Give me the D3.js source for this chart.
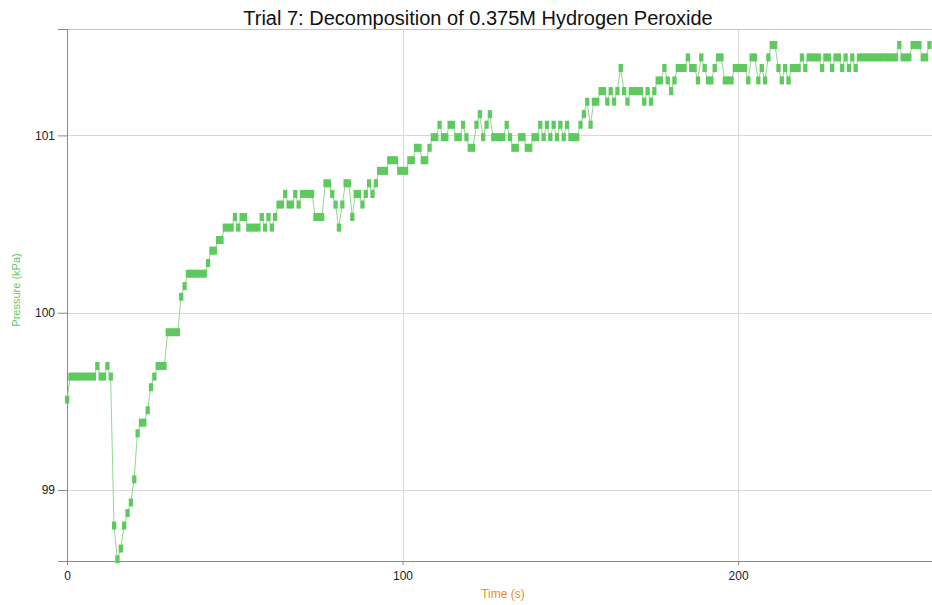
<!DOCTYPE html>
<html>
<head>
<meta charset="utf-8">
<script src="https://cdn.jsdelivr.net/npm/d3@7"></script>
<style>
  body { margin: 0; background: #fff; }
  text { font-family: Arial, "Liberation Sans", sans-serif; }
</style>
</head>
<body>
<div></div>
<script>
// chart data: pressure readings taken once per second
const titleText = "Trial 7: Decomposition of 0.375M Hydrogen Peroxide";
const xLabel = "Time (s)";
const yLabel = "Pressure (kPa)";
const sampleInterval = 1; // seconds between readings

const pressure = [
    99.51, 99.64, 99.64, 99.64, 99.64, 99.64, 99.64, 99.64, 99.64, 99.70,
    99.64, 99.64, 99.70, 99.64, 98.80, 98.61, 98.67, 98.80, 98.87, 98.93,
    99.06, 99.32, 99.38, 99.38, 99.45, 99.58, 99.64, 99.70, 99.70, 99.70,
    99.89, 99.89, 99.89, 99.89, 100.09, 100.15, 100.22, 100.22, 100.22, 100.22,
    100.22, 100.22, 100.28, 100.35, 100.35, 100.41, 100.41, 100.48, 100.48, 100.48,
    100.54, 100.48, 100.54, 100.54, 100.48, 100.48, 100.48, 100.48, 100.54, 100.48,
    100.54, 100.48, 100.54, 100.61, 100.61, 100.67, 100.61, 100.61, 100.67, 100.61,
    100.67, 100.67, 100.67, 100.67, 100.54, 100.54, 100.54, 100.73, 100.73, 100.67,
    100.61, 100.48, 100.61, 100.73, 100.73, 100.54, 100.67, 100.67, 100.61, 100.67,
    100.73, 100.67, 100.73, 100.80, 100.80, 100.80, 100.86, 100.86, 100.86, 100.80,
    100.80, 100.80, 100.86, 100.86, 100.93, 100.93, 100.86, 100.86, 100.93, 100.99,
    100.99, 101.06, 100.99, 100.99, 101.06, 101.06, 100.99, 100.99, 101.06, 100.99,
    100.93, 100.93, 101.06, 101.12, 100.99, 101.06, 101.12, 100.99, 100.99, 100.99,
    100.99, 101.06, 100.99, 100.93, 100.93, 100.99, 100.99, 100.93, 100.93, 100.99,
    100.99, 101.06, 100.99, 101.06, 100.99, 101.06, 100.99, 101.06, 100.99, 101.06,
    100.99, 100.99, 100.99, 101.06, 101.12, 101.19, 101.06, 101.19, 101.19, 101.25,
    101.25, 101.19, 101.25, 101.19, 101.25, 101.38, 101.25, 101.19, 101.25, 101.25,
    101.25, 101.25, 101.19, 101.25, 101.19, 101.25, 101.31, 101.31, 101.38, 101.31,
    101.25, 101.31, 101.38, 101.38, 101.38, 101.44, 101.38, 101.38, 101.31, 101.44,
    101.38, 101.31, 101.31, 101.38, 101.44, 101.44, 101.31, 101.31, 101.31, 101.38,
    101.38, 101.38, 101.38, 101.31, 101.44, 101.44, 101.31, 101.38, 101.31, 101.44,
    101.51, 101.51, 101.38, 101.31, 101.38, 101.31, 101.38, 101.38, 101.38, 101.44,
    101.38, 101.44, 101.44, 101.44, 101.44, 101.38, 101.44, 101.44, 101.38, 101.44,
    101.44, 101.38, 101.44, 101.38, 101.44, 101.38, 101.44, 101.44, 101.44, 101.44,
    101.44, 101.44, 101.44, 101.44, 101.44, 101.44, 101.44, 101.44, 101.51, 101.44,
    101.44, 101.44, 101.51, 101.51, 101.51, 101.44, 101.44, 101.51
];

const xMajorTicks = [0, 100, 200];
const yMajorTicks = [99, 100, 101];

// set the dimensions and margins of the graph
const margin = { top: 29, right: 0, bottom: 44, left: 67 },
    width = 932 - margin.left - margin.right,
    height = 605 - margin.top - margin.bottom;

const green = "#5ec95e";

const svg = d3.select("body div")
    .append("svg")
    .attr("width", width + margin.left + margin.right)
    .attr("height", height + margin.top + margin.bottom)
    .append("g")
    .attr("transform", `translate(${margin.left},${margin.top})`);

const data = pressure.map(function (p, i) {
    return { t: i * sampleInterval, p: p };
});

// scales
const x = d3.scaleLinear()
    .domain([0, 257.8])
    .range([0, width]);

const y = d3.scaleLinear()
    .domain([98.6, 101.6])
    .range([height, 0]);

// top border
svg.append("line")
    .attr("x1", 0).attr("x2", width)
    .attr("y1", 0.5).attr("y2", 0.5)
    .attr("stroke", "#c4c4c4");

// grid lines at the major ticks
svg.append("g")
    .selectAll("line")
    .data(xMajorTicks.filter(d => d > 0))
    .join("line")
    .attr("x1", d => Math.round(x(d)) + 0.5)
    .attr("x2", d => Math.round(x(d)) + 0.5)
    .attr("y1", 0)
    .attr("y2", height)
    .attr("stroke", "#d9d9d9");

svg.append("g")
    .selectAll("line")
    .data(yMajorTicks)
    .join("line")
    .attr("x1", 0)
    .attr("x2", width)
    .attr("y1", d => Math.round(y(d)) + 0.5)
    .attr("y2", d => Math.round(y(d)) + 0.5)
    .attr("stroke", "#d9d9d9");

// X axis: major ticks labelled, minor ticks every 20 s
const xAxis = svg.append("g")
    .attr("transform", `translate(0, ${height})`);
xAxis.call(d3.axisBottom(x).tickValues(d3.range(0, 258, 20)).tickSize(4).tickFormat(""));
xAxis.call(d3.axisBottom(x).tickValues(xMajorTicks).tickSize(4).tickPadding(6).tickFormat(d3.format("d")));
xAxis.selectAll("path").attr("stroke", "#8a8a8a");
xAxis.selectAll("line").attr("stroke", "#8a8a8a");
xAxis.selectAll("text").style("font-size", "12px").attr("fill", "#222");

// Y axis: minor ticks every 0.2 kPa
const yAxis = svg.append("g");
yAxis.call(d3.axisLeft(y).tickValues(d3.range(98.6, 101.61, 0.2)).tickSize(4).tickFormat(""));
yAxis.call(d3.axisLeft(y).tickValues(yMajorTicks).tickSize(9).tickPadding(3).tickFormat(d3.format("d")));
yAxis.selectAll("path").attr("stroke", "#8a8a8a");
yAxis.selectAll("line").attr("stroke", "#8a8a8a");
yAxis.selectAll("text").style("font-size", "12px").attr("fill", "#222");

// connecting line
const line = d3.line()
    .x(d => x(d.t))
    .y(d => y(d.p));

svg.append("path")
    .datum(data)
    .attr("fill", "none")
    .attr("stroke", "#8fd98f")
    .attr("stroke-width", 1)
    .attr("d", line);

// point markers
svg.append("g")
    .selectAll("rect")
    .data(data)
    .join("rect")
    .attr("x", d => x(d.t) - 2)
    .attr("y", d => y(d.p) - 4)
    .attr("width", 4.3)
    .attr("height", 8)
    .attr("fill", green);

// chart title
svg.append("text")
    .attr("x", 478 - margin.left)
    .attr("y", 25 - margin.top)
    .attr("text-anchor", "middle")
    .style("font-size", "20px")
    .attr("fill", "#111")
    .text(titleText);

// axis labels
svg.append("text")
    .attr("x", 503 - margin.left)
    .attr("y", 598 - margin.top)
    .attr("text-anchor", "middle")
    .style("font-size", "12px")
    .attr("fill", "#f08a24")
    .text(xLabel);

svg.append("text")
    .attr("transform", "rotate(-90)")
    .attr("x", -(290 - margin.top))
    .attr("y", 20 - margin.left)
    .attr("text-anchor", "middle")
    .style("font-size", "11px")
    .attr("fill", green)
    .text(yLabel);
</script>
</body>
</html>
